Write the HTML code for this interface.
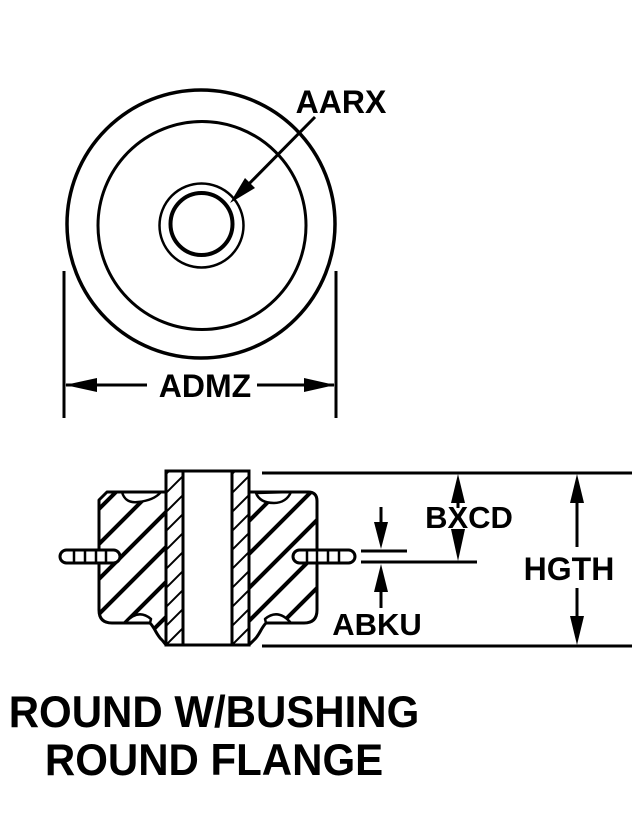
<!DOCTYPE html>
<html>
<head>
<meta charset="utf-8">
<style>
  html, body { margin: 0; padding: 0; background: #fff; }
  body { width: 641px; height: 840px; overflow: hidden; }
  svg { display: block; }
  text { font-family: "Liberation Sans", Arial, sans-serif; font-weight: bold; fill: #000; }
</style>
</head>
<body>
<svg width="641" height="840" viewBox="0 0 641 840" xmlns="http://www.w3.org/2000/svg">
  <defs>
    <clipPath id="lbody">
      <path d="M166,492 L107,492 L99,500 L99,610 Q99,623 112,623 L150,623 C155,628 157,636 162,640 L166,645 Z"/>
    </clipPath>
    <clipPath id="rbody">
      <path d="M249,492 L308,492 Q317,492 317,501 L317,610 Q317,623 304,623 L266,623 C261,628 259,636 254,640 L249,645 Z"/>
    </clipPath>
    <clipPath id="lwall"><rect x="166" y="471" width="17" height="174"/></clipPath>
    <clipPath id="rwall"><rect x="232" y="471" width="17" height="174"/></clipPath>
  </defs>

  <rect x="0" y="0" width="641" height="840" fill="#fff"/>

  <!-- ===== TOP VIEW ===== -->
  <g fill="none" stroke="#000">
    <circle cx="201" cy="224" r="134" stroke-width="3.5"/>
    <circle cx="202" cy="225.5" r="104" stroke-width="3"/>
    <circle cx="201.5" cy="225.5" r="42" stroke-width="2.5"/>
    <circle cx="201.5" cy="224" r="31" stroke-width="4"/>
  </g>

  <!-- AARX leader -->
  <line x1="315" y1="117" x2="240" y2="193" stroke="#000" stroke-width="3"/>
  <polygon points="230,203 255,188 245,178" fill="#000"/>
  <text x="341" y="113" font-size="32" text-anchor="middle">AARX</text>

  <!-- ADMZ dimension -->
  <line x1="64" y1="271" x2="64" y2="418" stroke="#000" stroke-width="3"/>
  <line x1="336" y1="271" x2="336" y2="418" stroke="#000" stroke-width="3"/>
  <line x1="66" y1="385" x2="147" y2="385" stroke="#000" stroke-width="3"/>
  <line x1="257" y1="385" x2="334" y2="385" stroke="#000" stroke-width="3"/>
  <polygon points="65,385 97,378 97,392" fill="#000"/>
  <polygon points="335,385 304,378 304,392" fill="#000"/>
  <text x="205" y="397" font-size="32" text-anchor="middle">ADMZ</text>

  <!-- ===== SECTION VIEW ===== -->
  <!-- rubber hatching left -->
  <g clip-path="url(#lbody)" stroke="#000" stroke-width="4">
    <line x1="90" y1="518" x2="175" y2="433"/>
    <line x1="90" y1="553" x2="175" y2="468"/>
    <line x1="90" y1="588" x2="175" y2="503"/>
    <line x1="90" y1="623" x2="175" y2="538"/>
    <line x1="90" y1="658" x2="175" y2="573"/>
    <line x1="90" y1="693" x2="175" y2="608"/>
  </g>
  <!-- rubber hatching right -->
  <g clip-path="url(#rbody)" stroke="#000" stroke-width="4">
    <line x1="240" y1="530" x2="325" y2="445"/>
    <line x1="240" y1="563" x2="325" y2="478"/>
    <line x1="240" y1="597" x2="325" y2="512"/>
    <line x1="240" y1="630" x2="325" y2="545"/>
    <line x1="240" y1="665" x2="325" y2="580"/>
  </g>

  <!-- bushing wall hatching -->
  <g clip-path="url(#lwall)" stroke="#000" stroke-width="2">
    <line x1="160" y1="480" x2="190" y2="450"/>
    <line x1="160" y1="499" x2="190" y2="469"/>
    <line x1="160" y1="518" x2="190" y2="488"/>
    <line x1="160" y1="537" x2="190" y2="507"/>
    <line x1="160" y1="556" x2="190" y2="526"/>
    <line x1="160" y1="575" x2="190" y2="545"/>
    <line x1="160" y1="594" x2="190" y2="564"/>
    <line x1="160" y1="613" x2="190" y2="583"/>
    <line x1="160" y1="632" x2="190" y2="602"/>
    <line x1="160" y1="651" x2="190" y2="621"/>
    <line x1="160" y1="670" x2="190" y2="640"/>
  </g>
  <g clip-path="url(#rwall)" stroke="#000" stroke-width="2">
    <line x1="226" y1="480" x2="256" y2="450"/>
    <line x1="226" y1="499" x2="256" y2="469"/>
    <line x1="226" y1="518" x2="256" y2="488"/>
    <line x1="226" y1="537" x2="256" y2="507"/>
    <line x1="226" y1="556" x2="256" y2="526"/>
    <line x1="226" y1="575" x2="256" y2="545"/>
    <line x1="226" y1="594" x2="256" y2="564"/>
    <line x1="226" y1="613" x2="256" y2="583"/>
    <line x1="226" y1="632" x2="256" y2="602"/>
    <line x1="226" y1="651" x2="256" y2="621"/>
    <line x1="226" y1="670" x2="256" y2="640"/>
  </g>

  <!-- scallops / lenses -->
  <g fill="#fff" stroke="#000" stroke-width="2.5" stroke-linejoin="round">
    <path d="M122,492 C124,500 130,503 138,502 C148,501 156,498 161,492 Z"/>
    <path d="M125,623 Q138,608 151,619 L150,623 Z"/>
    <path d="M256,493 C259,501 266,503 274,503 C282,503 288,499 291,492 Z"/>
    <path d="M291,623 Q278,608 265,619 L266,623 Z"/>
  </g>

  <!-- rubber outlines -->
  <g fill="none" stroke="#000" stroke-width="3" stroke-linejoin="round">
    <path d="M166,492 L107,492 L99,500 L99,610 Q99,623 112,623 L150,623 C155,628 157,636 162,640 L166,645"/>
    <path d="M249,492 L308,492 Q317,492 317,501 L317,610 Q317,623 304,623 L266,623 C261,628 259,636 254,640 L249,645"/>
  </g>

  <!-- bushing -->
  <rect x="166" y="471" width="83" height="174" fill="none" stroke="#000" stroke-width="3"/>
  <line x1="183" y1="471" x2="183" y2="645" stroke="#000" stroke-width="3"/>
  <line x1="232" y1="471" x2="232" y2="645" stroke="#000" stroke-width="3"/>

  <!-- flanges -->
  <g stroke="#000">
    <rect x="60" y="550" width="60" height="13" rx="6.5" fill="#fff" stroke-width="3"/>
    <line x1="74" y1="550" x2="74" y2="563" stroke-width="2.5"/>
    <line x1="85" y1="550" x2="85" y2="563" stroke-width="2.5"/>
    <line x1="96" y1="550" x2="96" y2="563" stroke-width="2.5"/>
    <line x1="106" y1="550" x2="106" y2="563" stroke-width="2.5"/>
    <rect x="293" y="550" width="62" height="13" rx="6.5" fill="#fff" stroke-width="3"/>
    <line x1="307" y1="550" x2="307" y2="563" stroke-width="2.5"/>
    <line x1="317" y1="550" x2="317" y2="563" stroke-width="2.5"/>
    <line x1="328" y1="550" x2="328" y2="563" stroke-width="2.5"/>
    <line x1="339" y1="550" x2="339" y2="563" stroke-width="2.5"/>
  </g>

  <!-- extension lines -->
  <line x1="262" y1="473" x2="632" y2="473" stroke="#000" stroke-width="3"/>
  <line x1="262" y1="646" x2="632" y2="646" stroke="#000" stroke-width="3"/>
  <line x1="361" y1="551" x2="407" y2="551" stroke="#000" stroke-width="3"/>
  <line x1="361" y1="562" x2="477" y2="562" stroke="#000" stroke-width="3"/>

  <!-- ABKU arrows -->
  <line x1="381" y1="507" x2="381" y2="530" stroke="#000" stroke-width="3"/>
  <polygon points="381,549 374,522 388,522" fill="#000"/>
  <line x1="381" y1="588" x2="381" y2="608" stroke="#000" stroke-width="3"/>
  <polygon points="381,564 374,592 388,592" fill="#000"/>
  <text x="377" y="635" font-size="31" text-anchor="middle">ABKU</text>

  <!-- BXCD arrows -->
  <line x1="458" y1="480" x2="458" y2="508" stroke="#000" stroke-width="3"/>
  <polygon points="458,474 451,503 465,503" fill="#000"/>
  <polygon points="458,561 451,529 465,529" fill="#000"/>
  <text x="469" y="528" font-size="31" text-anchor="middle">BXCD</text>

  <!-- HGTH arrows -->
  <line x1="577" y1="480" x2="577" y2="547" stroke="#000" stroke-width="3"/>
  <polygon points="577,474 570,503 584,503" fill="#000"/>
  <line x1="577" y1="588" x2="577" y2="620" stroke="#000" stroke-width="3"/>
  <polygon points="577,645 570,616 584,616" fill="#000"/>
  <text x="569" y="580" font-size="32" text-anchor="middle">HGTH</text>

  <!-- title -->
  <g transform="translate(214,727) scale(1,1.06)">
    <text x="0" y="0" font-size="42" text-anchor="middle">ROUND W/BUSHING</text>
  </g>
  <g transform="translate(214,775) scale(1,1.06)">
    <text x="0" y="0" font-size="42" text-anchor="middle">ROUND FLANGE</text>
  </g>
</svg>
</body>
</html>
